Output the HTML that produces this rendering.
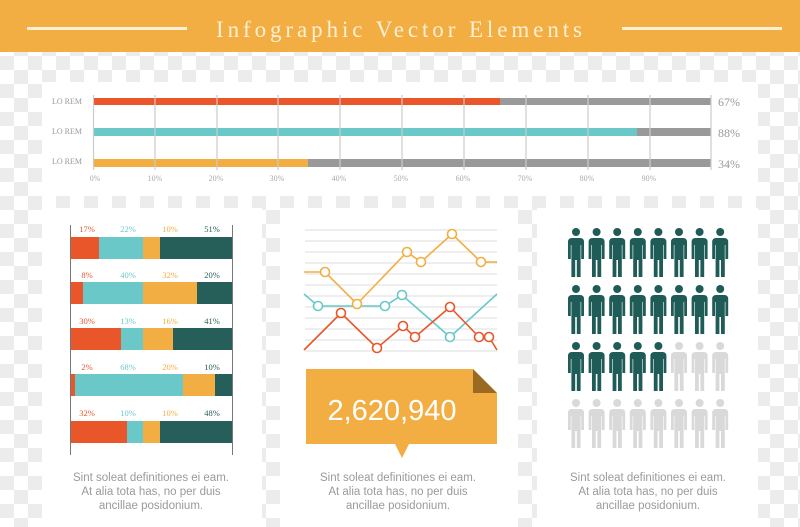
<!DOCTYPE html>
<html><head><meta charset="utf-8"><style>
html,body{margin:0;padding:0;background:#fff}
svg{display:block}
</style></head><body>
<svg width="800" height="527" viewBox="0 0 800 527" xmlns="http://www.w3.org/2000/svg" font-family="'Liberation Serif',serif">
<defs>
<pattern id="chk" width="28" height="28" patternUnits="userSpaceOnUse">
<rect width="28" height="28" fill="#fff"/>
<rect x="0" y="0" width="14" height="14" fill="#ececec"/>
<rect x="14" y="14" width="14" height="14" fill="#ececec"/>
</pattern>
<g id="p">
<circle cx="0" cy="4" r="4"/>
<path d="M-8,14 Q-8,10 -4,10 H4 Q8,10 8,14 V31 H5.2 V17 H4.6 V49 H0.8 V32 H-0.8 V49 H-4.6 V17 H-5.2 V31 H-8 Z"/>
</g>
</defs>
<rect width="800" height="527" fill="url(#chk)"/>
<rect x="0" y="0" width="800" height="52" fill="#f2ae42"/>
<rect x="27" y="27" width="160" height="3" fill="#fdf0d5"/>
<rect x="622" y="27" width="160" height="3" fill="#fdf0d5"/>
<text x="216" y="37" font-size="23" fill="#fdf0d5" textLength="366" lengthAdjust="spacing">Infographic Vector Elements</text>

<rect x="42" y="82" width="716" height="114" fill="#fff"/>
<g font-size="8" fill="#999">
<text x="52" y="104">LO REM</text><text x="52" y="134">LO REM</text><text x="52" y="164">LO REM</text>
</g>
<rect x="93" y="98" width="618" height="7" fill="#999"/>
<rect x="93" y="98" width="407" height="7" fill="#e8562a"/>
<rect x="93" y="128" width="618" height="8" fill="#999"/>
<rect x="93" y="128" width="544" height="8" fill="#6ac8c9"/>
<rect x="93" y="159" width="618" height="8" fill="#999"/>
<rect x="93" y="159" width="215" height="8" fill="#f2ae42"/>
<g stroke="#ccc" stroke-width="1.2">
<line x1="93.5" y1="95" x2="93.5" y2="170"/><line x1="155" y1="95" x2="155" y2="170"/><line x1="217" y1="95" x2="217" y2="170"/><line x1="278" y1="95" x2="278" y2="170"/><line x1="340" y1="95" x2="340" y2="170"/><line x1="402" y1="95" x2="402" y2="170"/><line x1="464" y1="95" x2="464" y2="170"/><line x1="526" y1="95" x2="526" y2="170"/><line x1="588" y1="95" x2="588" y2="170"/><line x1="650" y1="95" x2="650" y2="170"/><line x1="711" y1="95" x2="711" y2="170"/>
</g>
<g font-size="8" fill="#aaa" text-anchor="middle">
<text x="95" y="181">0%</text><text x="155" y="181">10%</text><text x="216" y="181">20%</text><text x="277" y="181">30%</text><text x="339" y="181">40%</text><text x="401" y="181">50%</text><text x="463" y="181">60%</text><text x="525" y="181">70%</text><text x="587" y="181">80%</text><text x="649" y="181">90%</text>
</g>
<g font-size="12" fill="#999">
<text x="718" y="106">67%</text><text x="718" y="137">88%</text><text x="718" y="168">34%</text>
</g>

<rect x="42" y="208" width="220" height="319" fill="#fff"/>
<rect x="280" y="208" width="238" height="319" fill="#fff"/>
<rect x="537" y="208" width="221" height="319" fill="#fff"/>

<g stroke="#777" stroke-width="1"><line x1="70.5" y1="225" x2="70.5" y2="455"/><line x1="232.5" y1="225" x2="232.5" y2="455"/></g>
<g font-size="8.5" text-anchor="middle">
<rect x="71" y="237" width="28" height="22" fill="#e8562a"/><rect x="99" y="237" width="44" height="22" fill="#6ac8c9"/><rect x="143" y="237" width="17" height="22" fill="#f2ae42"/><rect x="160" y="237" width="72" height="22" fill="#265e5a"/>
<text x="87" y="232" fill="#e8562a">17%</text><text x="128" y="232" fill="#6ac8c9">22%</text><text x="170" y="232" fill="#f2ae42">10%</text><text x="212" y="232" fill="#265e5a">51%</text>
<rect x="71" y="282" width="12" height="22" fill="#e8562a"/><rect x="83" y="282" width="60" height="22" fill="#6ac8c9"/><rect x="143" y="282" width="54" height="22" fill="#f2ae42"/><rect x="197" y="282" width="35" height="22" fill="#265e5a"/>
<text x="87" y="278" fill="#e8562a">8%</text><text x="128" y="278" fill="#6ac8c9">40%</text><text x="170" y="278" fill="#f2ae42">32%</text><text x="212" y="278" fill="#265e5a">20%</text>
<rect x="71" y="328" width="50" height="22" fill="#e8562a"/><rect x="121" y="328" width="22" height="22" fill="#6ac8c9"/><rect x="143" y="328" width="30" height="22" fill="#f2ae42"/><rect x="173" y="328" width="59" height="22" fill="#265e5a"/>
<text x="87" y="324" fill="#e8562a">30%</text><text x="128" y="324" fill="#6ac8c9">13%</text><text x="170" y="324" fill="#f2ae42">16%</text><text x="212" y="324" fill="#265e5a">41%</text>
<rect x="71" y="374" width="4" height="22" fill="#e8562a"/><rect x="75" y="374" width="108" height="22" fill="#6ac8c9"/><rect x="183" y="374" width="32" height="22" fill="#f2ae42"/><rect x="215" y="374" width="17" height="22" fill="#265e5a"/>
<text x="87" y="370" fill="#e8562a">2%</text><text x="128" y="370" fill="#6ac8c9">68%</text><text x="170" y="370" fill="#f2ae42">20%</text><text x="212" y="370" fill="#265e5a">10%</text>
<rect x="71" y="421" width="56" height="22" fill="#e8562a"/><rect x="127" y="421" width="16" height="22" fill="#6ac8c9"/><rect x="143" y="421" width="17" height="22" fill="#f2ae42"/><rect x="160" y="421" width="72" height="22" fill="#265e5a"/>
<text x="87" y="416" fill="#e8562a">32%</text><text x="128" y="416" fill="#6ac8c9">10%</text><text x="170" y="416" fill="#f2ae42">10%</text><text x="212" y="416" fill="#265e5a">48%</text>
</g>

<g stroke="#ddd" stroke-width="1">
<line x1="305" y1="230" x2="497" y2="230"/><line x1="305" y1="241" x2="497" y2="241"/><line x1="305" y1="252" x2="497" y2="252"/><line x1="305" y1="263" x2="497" y2="263"/><line x1="305" y1="274" x2="497" y2="274"/><line x1="305" y1="285" x2="497" y2="285"/><line x1="305" y1="296" x2="497" y2="296"/><line x1="305" y1="307" x2="497" y2="307"/><line x1="305" y1="318" x2="497" y2="318"/><line x1="305" y1="329" x2="497" y2="329"/><line x1="305" y1="340" x2="497" y2="340"/><line x1="305" y1="351" x2="497" y2="351"/>
</g>
<g fill="none" stroke-width="1.6">
<polyline stroke="#f2ae42" points="304,272 325,272 357,304 407,252 421,262 452,234 481,262 497,262"/>
<polyline stroke="#6ac8c9" points="304,294 318,306 385,306 402,295 450,337 497,294"/>
<polyline stroke="#e8562a" points="304,350 341,313 377,348 403,326 415,337 450,307 479,337 489,337 497,350"/>
</g>
<g fill="#fff" stroke-width="1.6">
<g stroke="#f2ae42"><circle cx="325" cy="272" r="4.5"/><circle cx="357" cy="304" r="4.5"/><circle cx="407" cy="252" r="4.5"/><circle cx="421" cy="262" r="4.5"/><circle cx="452" cy="234" r="4.5"/><circle cx="481" cy="262" r="4.5"/></g>
<g stroke="#6ac8c9"><circle cx="318" cy="306" r="4.5"/><circle cx="385" cy="306" r="4.5"/><circle cx="402" cy="295" r="4.5"/><circle cx="450" cy="337" r="4.5"/></g>
<g stroke="#e8562a"><circle cx="341" cy="313" r="4.5"/><circle cx="377" cy="348" r="4.5"/><circle cx="403" cy="326" r="4.5"/><circle cx="415" cy="337" r="4.5"/><circle cx="450" cy="307" r="4.5"/><circle cx="479" cy="337" r="4.5"/><circle cx="489" cy="337" r="4.5"/></g>
</g>
<path d="M306,369 H473 L497,393 V444 H409 L402,458 L395,444 H306 Z" fill="#f2ae42"/>
<path d="M473,369 L497,393 H473 Z" fill="#9a6a22"/>
<text x="392" y="420" font-family="'Liberation Sans',sans-serif" font-size="29" fill="#fff" text-anchor="middle">2,620,940</text>

<g fill="#1f5c57">
<use href="#p" x="576" y="228"/><use href="#p" x="596.6" y="228"/><use href="#p" x="617.2" y="228"/><use href="#p" x="637.8" y="228"/><use href="#p" x="658.4" y="228"/><use href="#p" x="679" y="228"/><use href="#p" x="699.6" y="228"/><use href="#p" x="720.2" y="228"/>
<use href="#p" x="576" y="285"/><use href="#p" x="596.6" y="285"/><use href="#p" x="617.2" y="285"/><use href="#p" x="637.8" y="285"/><use href="#p" x="658.4" y="285"/><use href="#p" x="679" y="285"/><use href="#p" x="699.6" y="285"/><use href="#p" x="720.2" y="285"/>
<use href="#p" x="576" y="342"/><use href="#p" x="596.6" y="342"/><use href="#p" x="617.2" y="342"/><use href="#p" x="637.8" y="342"/><use href="#p" x="658.4" y="342"/>
</g>
<g fill="#d9d9d9">
<use href="#p" x="679" y="342"/><use href="#p" x="699.6" y="342"/><use href="#p" x="720.2" y="342"/>
<use href="#p" x="576" y="399"/><use href="#p" x="596.6" y="399"/><use href="#p" x="617.2" y="399"/><use href="#p" x="637.8" y="399"/><use href="#p" x="658.4" y="399"/><use href="#p" x="679" y="399"/><use href="#p" x="699.6" y="399"/><use href="#p" x="720.2" y="399"/>
</g>

<g font-family="'Liberation Sans',sans-serif" font-size="11.5" fill="#9a9a9a" text-anchor="middle">
<text x="151" y="481">Sint soleat definitiones ei eam.</text><text x="151" y="495">At alia tota has, no per duis</text><text x="151" y="509">ancillae posidonium.</text>
<text x="398" y="481">Sint soleat definitiones ei eam.</text><text x="398" y="495">At alia tota has, no per duis</text><text x="398" y="509">ancillae posidonium.</text>
<text x="648" y="481">Sint soleat definitiones ei eam.</text><text x="648" y="495">At alia tota has, no per duis</text><text x="648" y="509">ancillae posidonium.</text>
</g>
</svg>
</body></html>
